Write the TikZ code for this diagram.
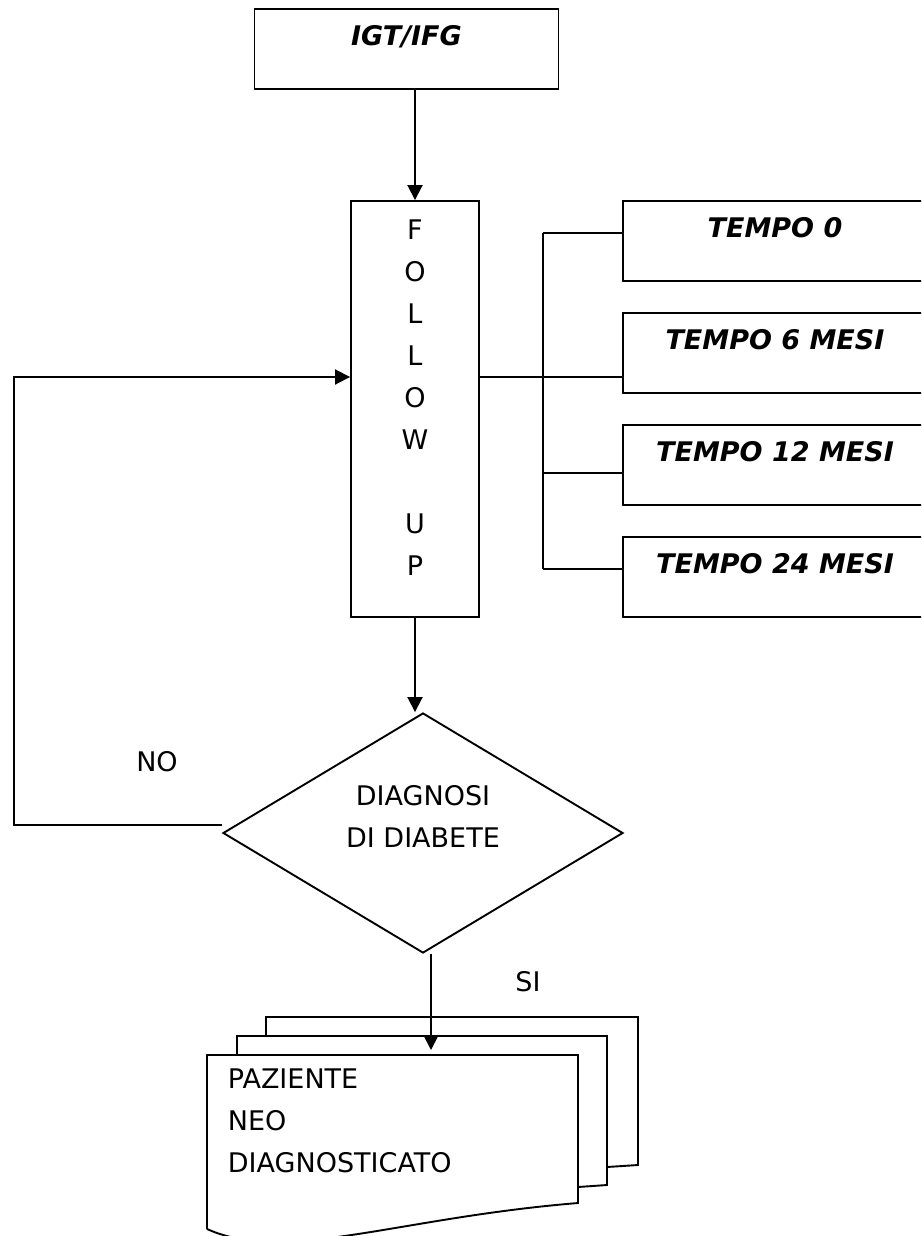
\documentclass[tikz,border=0pt]{standalone}
\usepackage{fontspec}
\setmainfont{DejaVu Sans}[ItalicFont={DejaVu Sans Oblique},BoldItalicFont={DejaVu Sans Bold Oblique}]
\usetikzlibrary{positioning,arrows.meta,shapes.geometric,calc}
\begin{document}
\begin{tikzpicture}[x=0.5pt,y=-0.5pt,>={Triangle[length=7.5pt,width=7.5pt]},line width=0.95pt,
  font=\fontsize{13.5}{21}\selectfont,
  box/.style={draw,minimum width=152pt,minimum height=40pt,text height=10pt,text depth=13.2pt,
    font=\fontsize{13.5}{21}\selectfont\bfseries\itshape},
  col/.style={draw,minimum width=64pt,minimum height=208pt},
  dec/.style={draw,diamond,minimum width=200pt,minimum height=120pt,inner sep=0pt},
  txt/.style={inner sep=0pt,align=center}]
  \useasboundingbox (0,0) rectangle (921,1236);
  \clip (0,0) rectangle (921,1236);
  \node[box](igt) at (406.5,49){IGT/IFG};
  \node[col](fu) at (415,409){};
  \node[txt](ful) at (415,398){F\\O\\L\\L\\O\\W\\[21pt]U\\P};
  \node[box](t0) at (775,241){TEMPO 0};
  \node[box](t6) at (775,353){TEMPO 6 MESI};
  \node[box](t12) at (775,465){TEMPO 12 MESI};
  \node[box](t24) at (775,577){TEMPO 24 MESI};
  \node[dec](dg) at (423,833){};
  \node[txt](dgl) at (423,816.5){DIAGNOSI\\DI DIABETE};
  \node[txt](no) at (157,762){NO};
  \node[txt](si) at (528,982){SI};
  \draw (266,1036) -- (266,1017) -- (638,1017) -- (638,1165) -- (607,1167);
  \draw (237,1055) -- (237,1036) -- (607,1036) -- (607,1185) -- (578,1187);
  \draw (207,1229) -- (207,1055) -- (578,1055) -- (578,1203) .. controls (395,1218) and (285,1264) .. (207,1229);
  \node[txt,align=left,anchor=west](pz) at (227,1121){PAZIENTE\\NEO\\DIAGNOSTICATO};
  \coordinate(mid) at (14,377);
  \coordinate(b0) at (543,233); \coordinate(b12) at (543,473); \coordinate(b24) at (543,569);
  \coordinate(din) at (431,1050);
  \draw[->](fu.north |- igt.south) -- (fu.north);
  \draw (fu.east |- mid) -- (mid -| t6.west);
  \draw (b0) -- (b24);
  \draw (b0) -- (b0 -| t0.west); \draw (b12) -- (b12 -| t12.west); \draw (b24) -- (b24 -| t24.west);
  \draw[->](fu.south) -- (fu.south |- dg.north);
  \draw[->]([yshift=4pt]dg.west) -| (mid) -- (fu.west |- mid);
  \draw[->](dg.south -| din) -- (din);
\end{tikzpicture}
\end{document}
